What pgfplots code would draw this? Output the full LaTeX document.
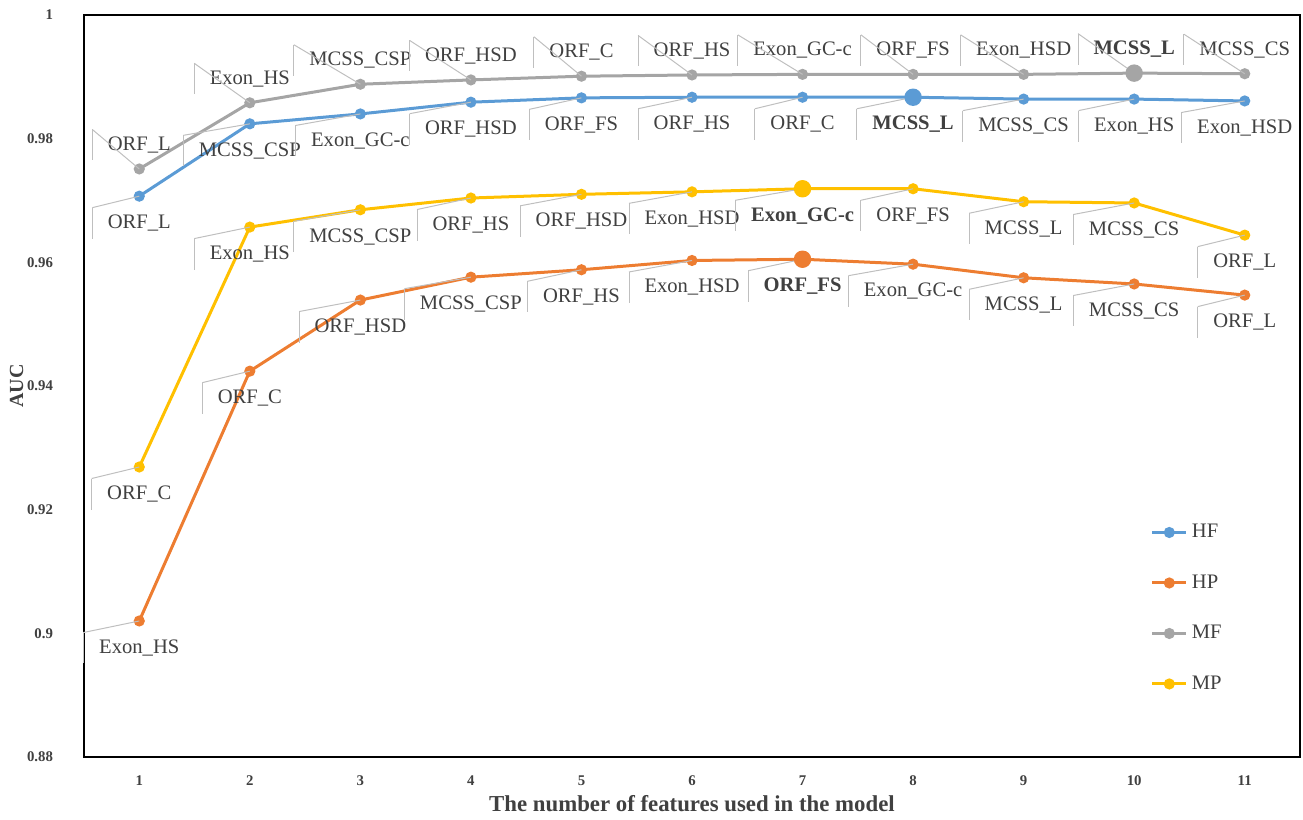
\documentclass[border=0pt]{standalone}
\usepackage{fontspec}
\setmainfont{Liberation Serif}
\usepackage{pgfplots}
\pgfplotsset{compat=1.18}
\definecolor{cHF}{HTML}{5B9BD5}
\definecolor{cHP}{HTML}{ED7D31}
\definecolor{cMF}{HTML}{A5A5A5}
\definecolor{cMP}{HTML}{FFC000}
\definecolor{txt}{HTML}{404040}
\definecolor{lead}{HTML}{BFBFBF}
\tikzset{
  lblbase/.style={font=\fontsize{10.3}{12}\selectfont, text=txt, inner xsep=7pt, inner ysep=0pt,
    minimum height=14pt, anchor=center},
  lblbelow/.style={lblbase, yshift=-13.5pt,
    append after command={(\tikzlastnode.north west) edge[lead, line width=0.5pt] ([yshift=13.5pt]\tikzlastnode.center)
      (\tikzlastnode.north west) edge[lead, line width=0.5pt] (\tikzlastnode.south west)}},
  lblabove/.style={lblbase, yshift=12pt,
    append after command={(\tikzlastnode.north west) edge[lead, line width=0.5pt] ([yshift=-12pt]\tikzlastnode.center)
      (\tikzlastnode.north west) edge[lead, line width=0.5pt] (\tikzlastnode.south west)}},
}
\begin{document}
\begin{tikzpicture}
\useasboundingbox (-42pt,-31.5pt) rectangle (609.5pt,378.5pt);
\begin{axis}[
  at={(0pt,0pt)}, anchor=south west,
  scale only axis, width=608pt, height=371pt,
  xmin=0.5, xmax=11.5, ymin=0.88, ymax=1,
  xtick={1,...,11}, ytick={0.88,0.9,0.92,0.94,0.96,0.98,1},
  major tick length=0pt,
  axis line style={black, line width=1pt},
  /pgf/number format/assume math mode=true,
  xticklabel={\pgfmathprintnumber{\tick}},
  yticklabel={\pgfmathprintnumber[fixed,precision=2]{\tick}},
  ticklabel style={font=\fontsize{7.4}{8}\selectfont\bfseries, text=txt},
  yticklabel shift=12pt, xticklabel shift=6pt,
  xlabel={The number of features used in the model},
  ylabel={AUC},
  xlabel style={font=\fontsize{11.4}{13}\selectfont\bfseries, text=txt, yshift=2pt},
  ylabel style={font=\fontsize{10}{12}\selectfont\bfseries, text=txt, yshift=-5pt},
  clip=false,
  legend style={at={(0.872,0.325)}, anchor=north west, draw=none, fill=none,
    font=\fontsize{10.3}{12}\selectfont, text=txt, row sep=13pt},
  legend cell align=left,
  legend image code/.code={
    \draw[#1, mark=none] (0cm,0cm) -- (0.6cm,0cm);
    \fill[#1] (0.3cm,0cm) circle (2pt);},
  every axis plot/.append style={line width=1.5pt, mark=*, mark size=2pt},
  point meta=explicit symbolic,
  nodes near coords,
]
\addplot[cHF, mark options={fill=cHF}, every node near coord/.style={lblbelow}] coordinates {
 (1,0.9707) [ORF\_L] (2,0.9824) [MCSS\_CSP] (3,0.9840) [Exon\_GC-c] (4,0.9859) [ORF\_HSD]
 (5,0.9866) [ORF\_FS] (6,0.9867) [ORF\_HS] (7,0.9867) [ORF\_C] (8,0.9867) [\textbf{MCSS\_L}]
 (9,0.9864) [MCSS\_CS] (10,0.9864) [Exon\_HS] (11,0.9861) [Exon\_HSD]};
\addlegendentry{HF}
\addplot[cHP, mark options={fill=cHP}, every node near coord/.style={lblbelow}] coordinates {
 (1,0.9020) [Exon\_HS] (2,0.9424) [ORF\_C] (3,0.9539) [ORF\_HSD] (4,0.9576) [MCSS\_CSP]
 (5,0.9588) [ORF\_HS] (6,0.9603) [Exon\_HSD] (7,0.9605) [\textbf{ORF\_FS}] (8,0.9597) [Exon\_GC-c]
 (9,0.9575) [MCSS\_L] (10,0.9565) [MCSS\_CS] (11,0.9547) [ORF\_L]};
\addlegendentry{HP}
\addplot[cMF, mark options={fill=cMF}, every node near coord/.style={lblabove}] coordinates {
 (1,0.9751) [ORF\_L] (2,0.9858) [Exon\_HS] (3,0.9888) [MCSS\_CSP] (4,0.9895) [ORF\_HSD]
 (5,0.9901) [ORF\_C] (6,0.9903) [ORF\_HS] (7,0.9904) [Exon\_GC-c] (8,0.9904) [ORF\_FS]
 (9,0.9904) [Exon\_HSD] (10,0.9906) [\textbf{MCSS\_L}] (11,0.9905) [MCSS\_CS]};
\addlegendentry{MF}
\addplot[cMP, mark options={fill=cMP}, every node near coord/.style={lblbelow}] coordinates {
 (1,0.9269) [ORF\_C] (2,0.9657) [Exon\_HS] (3,0.9685) [MCSS\_CSP] (4,0.9704) [ORF\_HS]
 (5,0.9710) [ORF\_HSD] (6,0.9714) [Exon\_HSD] (7,0.9719) [\textbf{Exon\_GC-c}] (8,0.9719) [ORF\_FS]
 (9,0.9698) [MCSS\_L] (10,0.9696) [MCSS\_CS] (11,0.9644) [ORF\_L]};
\addlegendentry{MP}
% highlighted maxima
\addplot[cHF, only marks, mark=*, mark size=3.6pt, nodes near coords={}, forget plot] coordinates {(8,0.9867)};
\addplot[cHP, only marks, mark=*, mark size=3.6pt, nodes near coords={}, forget plot] coordinates {(7,0.9605)};
\addplot[cMF, only marks, mark=*, mark size=3.6pt, nodes near coords={}, forget plot] coordinates {(10,0.9906)};
\addplot[cMP, only marks, mark=*, mark size=3.6pt, nodes near coords={}, forget plot] coordinates {(7,0.9719)};
\end{axis}
\end{tikzpicture}
\end{document}
